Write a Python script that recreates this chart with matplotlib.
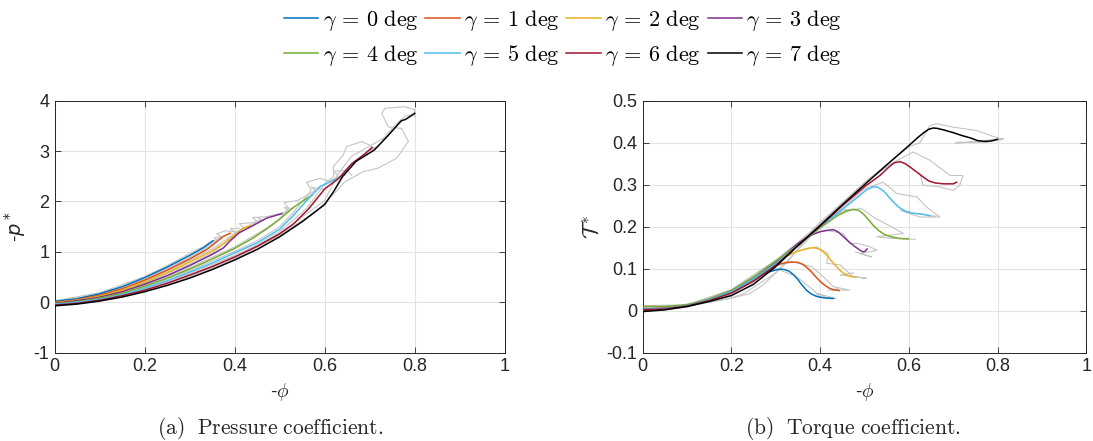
import matplotlib
matplotlib.use("Agg")
import matplotlib.pyplot as plt

plt.rcParams['mathtext.fontset'] = 'cm'
plt.rcParams['font.family'] = ['Liberation Sans', 'DejaVu Sans']
plt.rcParams['axes.unicode_minus'] = False

gammas = [0, 1, 2, 3, 4, 5, 6, 7]
colors = ['#0072BD', '#D95319', '#EDB120', '#7E2F8E', '#77AC30', '#4DBEEE', '#A2142F', '#000000']

# ---------------- Pressure coefficient (smoothed) ----------------
p_phi_0 = [0, 0.05, 0.1, 0.15, 0.2, 0.25, 0.3, 0.33, 0.352]
p_val_0 = [0.02, 0.07, 0.17, 0.31, 0.49, 0.70, 0.93, 1.08, 1.22]
p_phi_1 = [0, 0.05, 0.1, 0.15, 0.2, 0.25, 0.3, 0.34, 0.36, 0.375, 0.39]
p_val_1 = [0.0, 0.05, 0.14, 0.27, 0.44, 0.64, 0.86, 1.06, 1.20, 1.31, 1.37]
p_phi_2 = [0, 0.05, 0.1, 0.15, 0.2, 0.25, 0.3, 0.35, 0.375, 0.40, 0.419, 0.434]
p_val_2 = [-0.01, 0.04, 0.12, 0.24, 0.40, 0.59, 0.80, 1.02, 1.16, 1.34, 1.47, 1.52]
p_phi_3 = [0, 0.05, 0.1, 0.15, 0.2, 0.25, 0.3, 0.35, 0.375, 0.39, 0.41, 0.44, 0.471, 0.505]
p_val_3 = [-0.02, 0.03, 0.10, 0.21, 0.36, 0.53, 0.73, 0.95, 1.08, 1.22, 1.38, 1.52, 1.67, 1.76]
p_phi_4 = [0, 0.05, 0.1, 0.15, 0.2, 0.25, 0.3, 0.35, 0.4, 0.44, 0.47, 0.50, 0.53, 0.56, 0.572]
p_val_4 = [-0.03, 0.01, 0.08, 0.18, 0.32, 0.48, 0.66, 0.86, 1.07, 1.27, 1.45, 1.65, 1.88, 2.06, 2.13]
p_phi_5 = [0, 0.05, 0.1, 0.15, 0.2, 0.25, 0.3, 0.35, 0.4, 0.45, 0.5, 0.53, 0.56, 0.59, 0.62, 0.645]
p_val_5 = [-0.04, 0.0, 0.06, 0.15, 0.28, 0.43, 0.60, 0.78, 0.98, 1.18, 1.45, 1.72, 2.02, 2.30, 2.42, 2.53]
p_phi_6 = [0, 0.05, 0.1, 0.15, 0.2, 0.25, 0.3, 0.35, 0.4, 0.45, 0.5, 0.53, 0.564, 0.60, 0.63, 0.66, 0.69, 0.705]
p_val_6 = [-0.055, -0.02, 0.04, 0.13, 0.24, 0.38, 0.54, 0.71, 0.90, 1.11, 1.36, 1.55, 1.85, 2.25, 2.45, 2.75, 2.95, 3.07]
p_phi_7 = [0, 0.05, 0.1, 0.15, 0.2, 0.25, 0.3, 0.35, 0.4, 0.45, 0.5, 0.55, 0.6, 0.62, 0.64,
           0.67, 0.71, 0.74, 0.77, 0.78, 0.8]
p_val_7 = [-0.07, -0.035, 0.025, 0.105, 0.21, 0.335, 0.48, 0.65, 0.84, 1.05, 1.30, 1.60, 1.94, 2.20, 2.50,
           2.80, 3.02, 3.30, 3.60, 3.63, 3.75]

# ---------------- Pressure coefficient (raw runs, gray) ----------------
pg_phi_0 = [0, 0.1, 0.2, 0.25, 0.28, 0.30, 0.32, 0.33, 0.345, 0.36, 0.355, 0.37]
pg_val_0 = [0.03, 0.19, 0.51, 0.73, 0.87, 0.97, 1.06, 1.10, 1.20, 1.24, 1.28, 1.30]
pg_phi_1 = [0, 0.1, 0.2, 0.3, 0.33, 0.35, 0.37, 0.36, 0.38, 0.40, 0.39, 0.41]
pg_val_1 = [0.01, 0.16, 0.46, 0.89, 1.04, 1.16, 1.30, 1.36, 1.42, 1.40, 1.46, 1.47]
pg_phi_2 = [0, 0.1, 0.2, 0.3, 0.35, 0.38, 0.40, 0.42, 0.41, 0.44, 0.46, 0.45]
pg_val_2 = [0.0, 0.14, 0.42, 0.83, 1.06, 1.24, 1.38, 1.48, 1.56, 1.58, 1.64, 1.68]
pg_phi_3 = [0, 0.1, 0.2, 0.3, 0.35, 0.39, 0.42, 0.45, 0.44, 0.47, 0.50, 0.52, 0.51, 0.53]
pg_val_3 = [-0.01, 0.12, 0.38, 0.76, 0.98, 1.26, 1.47, 1.60, 1.68, 1.70, 1.76, 1.82, 1.88, 1.86]
pg_phi_4 = [0, 0.1, 0.2, 0.3, 0.4, 0.45, 0.48, 0.50, 0.52, 0.51, 0.54, 0.56, 0.58, 0.57, 0.60]
pg_val_4 = [-0.02, 0.10, 0.34, 0.69, 1.10, 1.36, 1.52, 1.66, 1.86, 1.98, 2.02, 2.12, 2.22, 2.28, 2.24]
pg_phi_5 = [0, 0.1, 0.2, 0.3, 0.4, 0.45, 0.5, 0.53, 0.55, 0.57, 0.56, 0.59, 0.61, 0.63, 0.62, 0.65, 0.66]
pg_val_5 = [-0.03, 0.08, 0.30, 0.63, 1.01, 1.22, 1.50, 1.78, 2.00, 2.22, 2.38, 2.46, 2.40, 2.50, 2.60, 2.62, 2.52]
pg_phi_6 = [0, 0.1, 0.2, 0.3, 0.4, 0.45, 0.5, 0.56, 0.6, 0.62, 0.619, 0.641, 0.649, 0.682, 0.70, 0.71, 0.69, 0.72]
pg_val_6 = [-0.05, 0.06, 0.26, 0.57, 0.93, 1.14, 1.40, 1.86, 2.35, 2.50, 2.69, 2.92, 3.09, 3.19, 3.12, 3.05, 2.98, 3.10]
pg_phi_7a = [0, 0.1, 0.2, 0.3, 0.4, 0.5, 0.58, 0.62, 0.645, 0.685, 0.718, 0.76, 0.786, 0.771, 0.741,
             0.727, 0.734, 0.778, 0.80, 0.80]
pg_val_7a = [-0.06, 0.04, 0.22, 0.50, 0.86, 1.33, 1.80, 2.15, 2.39, 2.59, 2.66, 2.86, 3.19, 3.45, 3.48,
             3.75, 3.85, 3.88, 3.82, 3.68]
pg_phi_7b = [0, 0.1, 0.2, 0.3, 0.4, 0.5, 0.6, 0.63, 0.66, 0.70, 0.73, 0.76, 0.78, 0.80]
pg_val_7b = [-0.06, 0.05, 0.23, 0.52, 0.88, 1.36, 2.02, 2.55, 2.90, 3.10, 3.25, 3.55, 3.70, 3.72]

# ---------------- Torque coefficient (smoothed) ----------------
t_phi_0 = [0, 0.05, 0.1, 0.15, 0.2, 0.25, 0.28, 0.3, 0.31, 0.32, 0.33, 0.34, 0.35, 0.36, 0.37, 0.38,
           0.39, 0.40, 0.415, 0.43]
t_val_0 = [0.002, 0.004, 0.012, 0.026, 0.045, 0.074, 0.091, 0.097, 0.099, 0.098, 0.094, 0.086, 0.074,
           0.060, 0.048, 0.040, 0.035, 0.032, 0.030, 0.029]
t_phi_1 = [0, 0.05, 0.1, 0.15, 0.2, 0.25, 0.3, 0.32, 0.335, 0.35, 0.36, 0.37, 0.38, 0.39, 0.40, 0.41,
           0.42, 0.43, 0.443]
t_val_1 = [0.002, 0.004, 0.012, 0.026, 0.045, 0.075, 0.108, 0.114, 0.116, 0.115, 0.111, 0.103, 0.093,
           0.081, 0.070, 0.061, 0.054, 0.050, 0.048]
t_phi_2 = [0, 0.05, 0.1, 0.15, 0.2, 0.25, 0.3, 0.32, 0.34, 0.36, 0.375, 0.385, 0.395, 0.405, 0.415,
           0.425, 0.437, 0.447, 0.456, 0.467, 0.479]
t_val_2 = [0.003, 0.005, 0.012, 0.026, 0.046, 0.077, 0.115, 0.128, 0.138, 0.145, 0.149, 0.150, 0.148,
           0.142, 0.132, 0.119, 0.105, 0.094, 0.087, 0.082, 0.080]
t_phi_3 = [0, 0.05, 0.1, 0.15, 0.2, 0.25, 0.3, 0.35, 0.375, 0.40, 0.42, 0.43, 0.44, 0.452, 0.465,
           0.478, 0.49, 0.497, 0.502, 0.506]
t_val_3 = [0.004, 0.006, 0.013, 0.027, 0.047, 0.078, 0.115, 0.160, 0.178, 0.188, 0.192, 0.193, 0.188,
           0.177, 0.164, 0.153, 0.144, 0.140, 0.142, 0.147]
t_phi_4 = [0, 0.05, 0.1, 0.15, 0.2, 0.25, 0.3, 0.35, 0.4, 0.42, 0.44, 0.46, 0.475, 0.487, 0.497, 0.508,
           0.52, 0.533, 0.546, 0.56, 0.58, 0.599]
t_val_4 = [0.010, 0.010, 0.014, 0.028, 0.048, 0.080, 0.118, 0.156, 0.197, 0.212, 0.227, 0.237, 0.241,
           0.239, 0.231, 0.218, 0.203, 0.190, 0.181, 0.176, 0.172, 0.171]
t_phi_5 = [0, 0.05, 0.1, 0.15, 0.2, 0.25, 0.3, 0.35, 0.4, 0.45, 0.49, 0.505, 0.52, 0.53, 0.543, 0.555,
           0.565, 0.578, 0.592, 0.61, 0.63, 0.648]
t_val_5 = [0.003, 0.005, 0.012, 0.026, 0.045, 0.076, 0.112, 0.155, 0.200, 0.241, 0.275, 0.288, 0.295,
           0.294, 0.285, 0.271, 0.259, 0.246, 0.237, 0.232, 0.230, 0.226]
t_phi_6 = [0, 0.05, 0.1, 0.15, 0.2, 0.25, 0.3, 0.35, 0.4, 0.45, 0.5, 0.535, 0.555, 0.567, 0.58, 0.592,
           0.603, 0.618, 0.633, 0.645, 0.66, 0.68, 0.70, 0.708]
t_val_6 = [0.002, 0.004, 0.011, 0.024, 0.042, 0.070, 0.108, 0.155, 0.201, 0.250, 0.295, 0.322, 0.342,
           0.352, 0.355, 0.350, 0.342, 0.330, 0.318, 0.309, 0.304, 0.302, 0.302, 0.306]
t_phi_7 = [0, 0.05, 0.1, 0.15, 0.2, 0.25, 0.3, 0.35, 0.4, 0.45, 0.5, 0.55, 0.6, 0.62, 0.635, 0.645,
           0.655, 0.665, 0.68, 0.7, 0.72, 0.74, 0.755, 0.77, 0.785, 0.8]
t_val_7 = [-0.002, 0.002, 0.010, 0.022, 0.036, 0.063, 0.105, 0.155, 0.203, 0.252, 0.300, 0.347, 0.393,
           0.412, 0.425, 0.432, 0.435, 0.434, 0.430, 0.424, 0.417, 0.411, 0.405, 0.403, 0.404, 0.408]

# ---------------- Torque coefficient (raw runs, gray) ----------------
tg_phi_0 = [0.0, 0.05, 0.1, 0.15, 0.2, 0.25, 0.28, 0.302, 0.347, 0.385, 0.40, 0.437, 0.392, 0.41]
tg_val_0 = [0.005, 0.006, 0.012, 0.025, 0.045, 0.075, 0.095, 0.10, 0.081, 0.049, 0.033, 0.029, 0.041, 0.035]
tg_phi_1 = [0.0, 0.1, 0.2, 0.25, 0.3, 0.34, 0.381, 0.411, 0.43, 0.467, 0.419, 0.44]
tg_val_1 = [0.008, 0.012, 0.048, 0.08, 0.108, 0.116, 0.105, 0.077, 0.057, 0.049, 0.049, 0.052]
tg_phi_2 = [0.0, 0.1, 0.2, 0.3, 0.35, 0.392, 0.419, 0.415, 0.445, 0.475, 0.505, 0.445, 0.475]
tg_val_2 = [0.003, 0.014, 0.043, 0.118, 0.142, 0.152, 0.136, 0.113, 0.109, 0.081, 0.077, 0.085, 0.09]
tg_phi_3 = [0.0, 0.1, 0.2, 0.3, 0.37, 0.41, 0.452, 0.467, 0.486, 0.513, 0.528, 0.49, 0.516, 0.48]
tg_val_3 = [0.01, 0.013, 0.05, 0.12, 0.18, 0.192, 0.184, 0.16, 0.16, 0.152, 0.144, 0.136, 0.128, 0.14]
tg_phi_4 = [0.0, 0.1, 0.2, 0.3, 0.4, 0.45, 0.494, 0.52, 0.588, 0.558, 0.528, 0.562, 0.614]
tg_val_4 = [0.012, 0.014, 0.05, 0.12, 0.203, 0.24, 0.243, 0.223, 0.184, 0.18, 0.176, 0.172, 0.17]
tg_phi_5 = [0.0, 0.1, 0.2, 0.23, 0.3, 0.4, 0.5, 0.542, 0.573, 0.618, 0.64, 0.67, 0.625, 0.58, 0.61, 0.66]
tg_val_5 = [0.0, 0.01, 0.03, 0.042, 0.09, 0.2, 0.29, 0.306, 0.279, 0.271, 0.247, 0.223, 0.223, 0.239, 0.232, 0.225]
tg_phi_6 = [0.0, 0.1, 0.2, 0.3, 0.4, 0.5, 0.56, 0.61, 0.648, 0.693, 0.722, 0.715, 0.70, 0.67, 0.632, 0.625]
tg_val_6 = [0.0, 0.009, 0.04, 0.11, 0.205, 0.305, 0.35, 0.378, 0.358, 0.322, 0.322, 0.299, 0.286, 0.295, 0.299, 0.327]
tg_phi_7 = [0.0, 0.1, 0.2, 0.3, 0.4, 0.5, 0.6, 0.625, 0.648, 0.663, 0.70, 0.753, 0.79, 0.813, 0.776, 0.708,
            0.704, 0.813]
tg_val_7 = [-0.003, 0.008, 0.038, 0.11, 0.21, 0.305, 0.39, 0.40, 0.441, 0.445, 0.437, 0.429, 0.415, 0.408,
            0.401, 0.401, 0.398, 0.41]
tg_phi_8 = [0.0, 0.05, 0.08, 0.12, 0.15, 0.18, 0.2, 0.22, 0.25, 0.27, 0.3, 0.33, 0.36, 0.4, 0.43, 0.46]
tg_val_8 = [0.01, 0.008, 0.012, 0.02, 0.027, 0.04, 0.05, 0.055, 0.075, 0.09, 0.12, 0.14, 0.165, 0.21, 0.225, 0.24]
tg_phi_9 = [0.15, 0.2, 0.24, 0.27, 0.3, 0.33, 0.36, 0.4, 0.45]
tg_val_9 = [0.02, 0.03, 0.04, 0.06, 0.09, 0.12, 0.16, 0.2, 0.25]

p_series = [(p_phi_0, p_val_0), (p_phi_1, p_val_1), (p_phi_2, p_val_2), (p_phi_3, p_val_3),
            (p_phi_4, p_val_4), (p_phi_5, p_val_5), (p_phi_6, p_val_6), (p_phi_7, p_val_7)]
p_gray = [(pg_phi_0, pg_val_0), (pg_phi_1, pg_val_1), (pg_phi_2, pg_val_2), (pg_phi_3, pg_val_3),
          (pg_phi_4, pg_val_4), (pg_phi_5, pg_val_5), (pg_phi_6, pg_val_6), (pg_phi_7a, pg_val_7a),
          (pg_phi_7b, pg_val_7b)]
t_series = [(t_phi_0, t_val_0), (t_phi_1, t_val_1), (t_phi_2, t_val_2), (t_phi_3, t_val_3),
            (t_phi_4, t_val_4), (t_phi_5, t_val_5), (t_phi_6, t_val_6), (t_phi_7, t_val_7)]
t_gray = [(tg_phi_0, tg_val_0), (tg_phi_1, tg_val_1), (tg_phi_2, tg_val_2), (tg_phi_3, tg_val_3),
          (tg_phi_4, tg_val_4), (tg_phi_5, tg_val_5), (tg_phi_6, tg_val_6), (tg_phi_7, tg_val_7),
          (tg_phi_8, tg_val_8), (tg_phi_9, tg_val_9)]

W, H = 1093, 441
fig = plt.figure(figsize=(W / 100, H / 100), dpi=100)
axL = fig.add_axes([54.7 / W, (H - 352.7) / H, 450.0 / W, 252.0 / H])
axR = fig.add_axes([642.7 / W, (H - 352.7) / H, 443.5 / W, 252.0 / H])

gray = '#c4c4c4'
for ax, gser, ser in [(axL, p_gray, p_series), (axR, t_gray, t_series)]:
    for gx, gy in gser:
        ax.plot(gx, gy, color=gray, lw=0.8, zorder=2)
    handles = []
    for (x, y), c, g in zip(ser, colors, gammas):
        h, = ax.plot(x, y, color=c, lw=1.1, zorder=3,
                     label=r'$\gamma\, =\, %d\ \mathrm{deg}$' % g)
        handles.append(h)

for ax in (axL, axR):
    ax.set_xlim(0, 1)
    ax.set_xticks([0, 0.2, 0.4, 0.6, 0.8, 1])
    ax.set_xticklabels(['0', '0.2', '0.4', '0.6', '0.8', '1'])
    ax.grid(True, color='#e3e3e3', lw=0.8, zorder=0)
    ax.set_axisbelow(True)
    ax.tick_params(direction='in', top=True, right=True, labelsize=13, colors='#262626',
                   length=4, width=0.6, pad=4)
    for s in ax.spines.values():
        s.set_color('#262626')
        s.set_linewidth(0.7)
    ax.set_xlabel(r'-$\phi$', fontsize=14, color='#262626', labelpad=4)

axL.set_ylim(-1, 4)
axL.set_yticks([-1, 0, 1, 2, 3, 4])
axL.set_ylabel(r'-$p^*$', fontsize=14, color='#262626', math_fontfamily='dejavusans', labelpad=4)

axR.set_ylim(-0.1, 0.5)
axR.set_yticks([-0.1, 0, 0.1, 0.2, 0.3, 0.4, 0.5])
axR.set_yticklabels(['-0.1', '0', '0.1', '0.2', '0.3', '0.4', '0.5'])
axR.set_ylabel(r'$\mathcal{T}^*$', fontsize=16, color='#262626', labelpad=2)

# row-major legend order (matplotlib fills columns first)
order = [0, 4, 1, 5, 2, 6, 3, 7]
fig.legend(handles=[handles[i] for i in order], loc='upper center',
           bbox_to_anchor=(563 / W, 1.028), ncol=4,
           frameon=False, fontsize=16, handlelength=1.55, columnspacing=0.3,
           handletextpad=0.2, labelspacing=0.45)

fig.text(270 / W, 1 - 428 / H, r'$\mathrm{(a)\ \ Pressure\ coefficient.}$', fontsize=15.5,
         ha='center', va='center', color='#262626')
fig.text(853 / W, 1 - 428 / H, r'$\mathrm{(b)\ \ Torque\ coefficient.}$', fontsize=15.5,
         ha='center', va='center', color='#262626')

fig.savefig('out.png', dpi=100)
